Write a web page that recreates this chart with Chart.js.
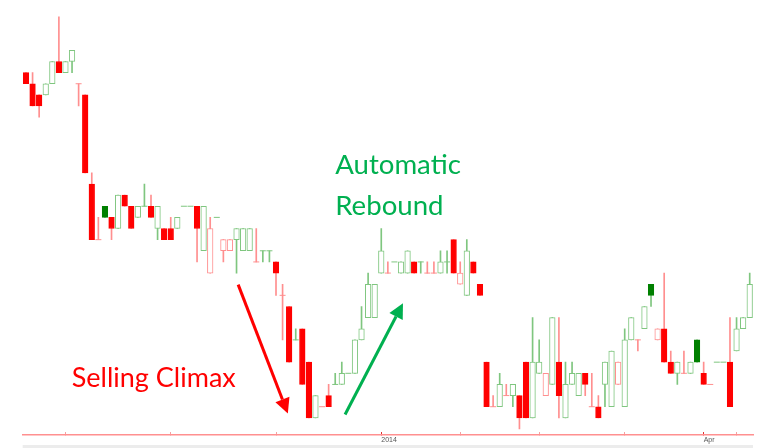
<!DOCTYPE html>
<html><head><meta charset="utf-8">
<script src="https://cdn.jsdelivr.net/npm/chart.js@4.4.1/dist/chart.umd.min.js"></script>
<style>html,body{margin:0;padding:0;background:#fff;overflow:hidden}#wrap{position:relative;width:757px;height:448px}</style>
</head><body><div id="wrap"><canvas id="c" width="757" height="448"></canvas></div>
<script>
// Price levels (one unit = one price step)
const opens = [31,30,29,29,30,32,31,32,30,29, 21,16,19,18,17,20,19,18,19,19, 17,17,17,17,19,19,19,15,13,18,
  15,15,16,15,15,14,15,15,14,11, 10,7,8,5,0,1,2,3,3,4, 4,7,9,9,13,13,14,13,13,14, 14,13,13,13,14,16,12,11,14,12,
  5,1,1,2,2,2,5,0,4,2, 3,5,0,3,2,4,1,1,3,1, 3,1,7,7,8,12,7,8,5,4, 4,4,7,4,3,5,5,5,6,8,9];
const highs = [31,31,29,30,32,36,32,33,30,29, 22,18,19,18,20,20,19,19,21,20, 19,17,18,18,19,19,19,19,18,18,
  16,16,17,17,17,17,15,15,14,12, 10,8,8,5,2,1,3,4,5,4, 7,10,13,12,17,14,14,14,15,14, 14,14,14,15,15,16,14,16,14,12,
  5,2,4,3,3,2,5,9,7,4, 9,9,5,5,4,4,4,2,5,6, 5,8,9,7,10,12,8,13,6,5, 6,5,7,5,3,5,5,9,9,9,13];
const lows = [30,28,27,29,30,31,31,31,28,22, 16,16,18,16,17,19,17,18,19,18, 16,16,16,17,19,19,14,15,13,18,
  14,15,13,15,15,14,14,14,11,7, 5,7,3,0,0,1,1,3,3,4, 4,7,9,9,13,13,14,13,13,13, 13,13,13,13,13,13,12,11,13,11,
  1,1,1,2,1,-1,0,0,4,2, 3,0,0,3,2,2,1,0,1,1, 3,1,7,6,8,10,7,5,4,3, 4,4,5,3,3,5,5,1,6,8,9];
const closes = [30,28,28,30,32,31,32,33,30,22, 16,16,18,17,20,19,17,19,19,18, 19,16,16,18,19,19,17,19,17,18,
  16,16,17,17,17,14,15,15,13,11, 5,7,3,0,2,1,1,3,4,4, 7,8,12,12,15,13,14,14,15,13, 14,13,13,14,14,13,13,15,13,11,
  1,1,3,2,3,0,0,5,5,4, 9,2,3,4,4,3,1,0,5,6, 5,7,9,7,10,11,8,5,4,5, 4,5,5,3,3,5,5,1,8,9,12];
const tickIndex = [6,22,38,54,66,78,91,103,108];
const tickLabels = {54:'2014', 103:'Apr'};
const categories = opens.map((_, i) => tickLabels[i] || '');

const annotations = [
  {text:'Selling Climax', x:6.95, y:2.73, color:'#ff0000', size:27},
  {text:'Automatic', x:47.0, y:21.9, color:'#00b050', size:27.6},
  {text:'Rebound', x:47.0, y:18.25, color:'#00b050', size:27.6}
];
const arrows = [
  {from:[32.25,11.96], to:[39.8,0.39], color:'#ff0000'},
  {from:[48.5,0.3], to:[57.3,10.3], color:'#00b050'}
];

// colour state: green if close above previous close, red if below, unchanged otherwise
const up = [];
closes.forEach((c, i) => {
  if (i === 0) up.push(c > opens[0]);
  else if (c > closes[i-1]) up.push(true);
  else if (c < closes[i-1]) up.push(false);
  else up.push(up[i-1]);
});
const G_LIGHT = '#7fc67f', R_LIGHT = '#ff8f8f';
const wickData = highs.map((h, i) => h > lows[i] ? [lows[i], h] : null);
const bodyData = opens.map((o, i) => o !== closes[i] ? [Math.min(o, closes[i]), Math.max(o, closes[i])] : null);
const dojiData = opens.map((o, i) => o === closes[i] ? o : null);
const bodyFill = opens.map((o, i) => closes[i] > o ? '#ffffff' : (up[i] ? '#008000' : '#ff0000'));
const bodyBorder = opens.map((o, i) => closes[i] > o ? (up[i] ? G_LIGHT : R_LIGHT) : (up[i] ? '#008000' : '#ff0000'));
const lightCol = up.map(u => u ? G_LIGHT : R_LIGHT);

const annot = {
  id: 'annot',
  afterDatasetsDraw(chart) {
    const {ctx, scales: {x, y}} = chart;
    ctx.save();
    annotations.forEach(a => {
      ctx.font = a.size + 'px Lato';
      ctx.fillStyle = a.color;
      ctx.textBaseline = 'alphabetic';
      ctx.textAlign = 'left';
      ctx.fillText(a.text, x.getPixelForValue(a.x), y.getPixelForValue(a.y));
    });
    arrows.forEach(a => {
      const x1 = x.getPixelForValue(a.from[0]), y1 = y.getPixelForValue(a.from[1]);
      const x2 = x.getPixelForValue(a.to[0]), y2 = y.getPixelForValue(a.to[1]);
      const ang = Math.atan2(y2 - y1, x2 - x1);
      const hl = 15, hw = 7.5;
      const bx = x2 - hl * Math.cos(ang), by = y2 - hl * Math.sin(ang);
      ctx.strokeStyle = a.color; ctx.fillStyle = a.color; ctx.lineWidth = 3;
      ctx.beginPath(); ctx.moveTo(x1, y1); ctx.lineTo(bx, by); ctx.stroke();
      ctx.beginPath(); ctx.moveTo(x2, y2);
      ctx.lineTo(bx + hw * Math.sin(ang), by - hw * Math.cos(ang));
      ctx.lineTo(bx - hw * Math.sin(ang), by + hw * Math.cos(ang));
      ctx.closePath(); ctx.fill();
    });
    ctx.fillStyle = '#ececec';
    ctx.fillRect(chart.chartArea.left, 445, chart.chartArea.right - chart.chartArea.left, 3);
    ctx.restore();
  }
};

new Chart(document.getElementById('c'), {
  type: 'bar',
  data: {
    labels: categories,
    datasets: [
      {data: wickData, backgroundColor: lightCol, barThickness: 1, grouped: false, order: 3, borderWidth: 0},
      {data: bodyData, backgroundColor: bodyFill, borderColor: bodyBorder, borderWidth: 1, borderSkipped: false,
       barThickness: 5.6, grouped: false, order: 2},
      {type: 'line', data: dojiData, showLine: false, pointStyle: 'line', pointRadius: 3, pointHoverRadius: 3,
       pointBorderWidth: 1, pointBorderColor: lightCol, borderColor: lightCol, order: 1}
    ]
  },
  options: {
    responsive: false, animation: false,
    layout: {padding: {left: 22.7, right: 0, top: 0, bottom: 0}},
    plugins: {legend: {display: false}, tooltip: {enabled: false}},
    scales: {
      x: {
        offset: true,
        grid: {offset: false, drawOnChartArea: false, drawTicks: true, tickLength: -3,
          color: ctx => tickIndex.includes(ctx.index) ? (tickLabels[ctx.index] ? '#e03030' : '#f4a0a0') : 'rgba(0,0,0,0)',
          lineWidth: 1},
        border: {display: true, color: '#ff9090', width: 1.5},
        ticks: {autoSkip: false, maxRotation: 0, minRotation: 0, align: 'start', padding: 4,
          font: {size: 7, family: 'Liberation Sans'}, color: '#555',
          callback: (v, i) => categories[i]},
        afterFit: s => { s.height = 13; }
      },
      y: {display: false, min: -1.54, max: 37.16}
    }
  },
  plugins: [annot]
});
</script></body></html>
